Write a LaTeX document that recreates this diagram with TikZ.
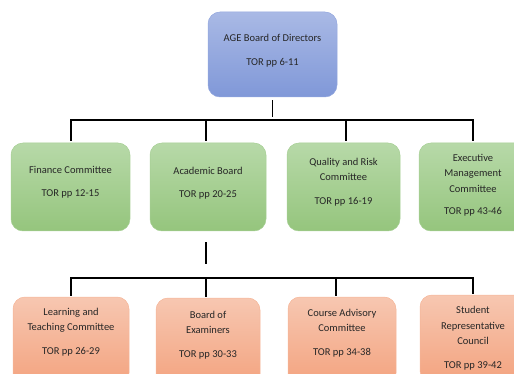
\documentclass[tikz,border=0pt]{standalone}
\usepackage{fontspec}
\setmainfont{Carlito}

\definecolor{blueA}{HTML}{A9B9E5}
\definecolor{blueB}{HTML}{8098D8}
\definecolor{blueE}{HTML}{93A7DE}
\definecolor{greenA}{HTML}{B7D9A8}
\definecolor{greenB}{HTML}{95C57D}
\definecolor{greenE}{HTML}{A6CF94}
\definecolor{orangeA}{HTML}{F7C7B1}
\definecolor{orangeB}{HTML}{F3A37F}
\definecolor{orangeE}{HTML}{F5B598}
\definecolor{txtgray}{HTML}{262626}

\tikzset{
    org/.style={rounded corners=12pt, line width=0.5pt, inner sep=0pt},
    dir/.style={org, top color=blueA, bottom color=blueB, draw=blueE},
    com/.style={org, top color=greenA, bottom color=greenB, draw=greenE},
    sub/.style={org, top color=orangeA, bottom color=orangeB, draw=orangeE},
    words/.style={align=center, text=txtgray, font=\fontsize{10.5}{15.5}\selectfont},
    link/.style={line width=1.7pt, black},
}

\begin{document}
\begin{tikzpicture}[x=1pt,y=-1pt]
    \useasboundingbox (0,0) rectangle (514,374);
    \clip (0,0) rectangle (514,374);
    % board
    \node[dir, minimum width=129pt, minimum height=85pt,
        label={[words,yshift=4pt]center:{AGE Board of Directors\\[8pt]TOR pp 6-11}}] (board) at (272.5,54.5) {};
    % committees
    \node[com, minimum width=119pt, minimum height=88pt,
        label={[words,yshift=5pt]center:{Finance Committee\\[8pt]TOR pp 12-15}}] (fin) at (70.5,187) {};
    \node[com, minimum width=116pt, minimum height=88pt,
        label={[words,yshift=4pt]center:{Academic Board\\[8pt]TOR pp 20-25}}] (acad) at (208,187) {};
    \node[com, minimum width=113pt, minimum height=88pt,
        label={[words,yshift=5pt]center:{Quality and Risk\\Committee\\[8pt]TOR pp 16-19}}] (qual) at (343.5,187) {};
    \node[com, minimum width=108pt, minimum height=88pt,
        label={[words,yshift=2pt]center:{Executive\\Management\\Committee\\[7pt]TOR pp 43-46}}] (exec) at (473,187) {};
    % under the academic board
    \node[sub, minimum width=116pt, minimum height=88pt,
        label={[words,yshift=9pt]center:{Learning and\\Teaching Committee\\[8pt]TOR pp 26-29}}] (learn) at (71,341) {};
    \node[sub, minimum width=104pt, minimum height=88pt,
        label={[words,yshift=7pt]center:{Board of\\Examiners\\[8pt]TOR pp 30-33}}] (exam) at (208,342) {};
    \node[sub, minimum width=108pt, minimum height=88pt,
        label={[words,yshift=8pt]center:{Course Advisory\\Committee\\[8pt]TOR pp 34-38}}] (course) at (342,341) {};
    \node[sub, minimum width=106pt, minimum height=88pt,
        label={[words,yshift=1pt]center:{Student\\Representative\\Council\\[8pt]TOR pp 39-42}}] (stud) at (473,339) {};

    % connectors
    \coordinate (bar1) at (271,120);
    \coordinate (bar2) at (206,278);
    \draw[link, shorten <=3pt, shorten >=3pt] (board.south) -- (board.south |- bar1);
    \foreach \n/\dx in {fin/0.5,acad/-2,qual/2.5,exec/0}
        \draw[link, shorten >=2pt] (bar1) -| ([xshift=\dx pt]\n.north);
    \draw[link, shorten <=11pt, shorten >=14pt] (acad.south -| bar2) -- (bar2);
    \foreach \n/\dx in {learn/0,exam/-2,course/-6,stud/0}
        \draw[link, shorten >=1pt] (bar2) -| ([xshift=\dx pt]\n.north);
\end{tikzpicture}
\end{document}
